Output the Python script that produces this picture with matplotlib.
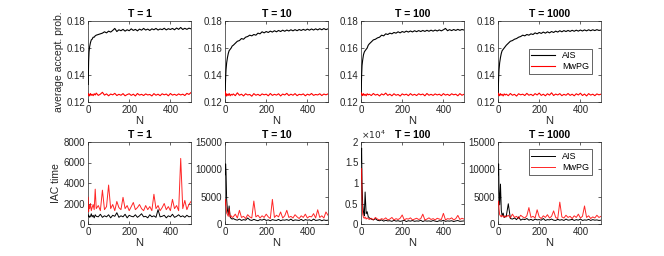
import matplotlib
matplotlib.use("Agg")
import matplotlib.pyplot as plt
from matplotlib.ticker import FuncFormatter

plt.rcParams['font.family'] = ['Liberation Sans', 'DejaVu Sans']

# ---------------------------------------------------- data ------------------------------------------------------------
temps = ['T = 1', 'T = 10', 'T = 100', 'T = 1000']

N = [1, 3, 5, 8, 12, 16, 20, 25, 30, 35,
     40, 50, 60, 70, 80, 90, 100, 110, 120, 130,
     140, 150, 160, 170, 180, 190, 200, 210, 220, 230,
     240, 250, 260, 270, 280, 290, 300, 310, 320, 330,
     340, 350, 360, 370, 380, 390, 400, 410, 420, 430,
     440, 450, 460, 470, 480, 490, 500]

# average acceptance probability
acc_ais_1 = [0.133, 0.150, 0.157, 0.161, 0.164, 0.166, 0.1665, 0.168, 0.168, 0.169,
             0.1695, 0.170, 0.1705, 0.171, 0.172, 0.1712, 0.1725, 0.1718, 0.173, 0.1745,
             0.1722, 0.1735, 0.1728, 0.1738, 0.1725, 0.1735, 0.1728, 0.1742, 0.1730, 0.1738,
             0.1727, 0.1740, 0.1732, 0.1745, 0.1733, 0.1740, 0.1730, 0.1742, 0.1735, 0.1745,
             0.1733, 0.1741, 0.1736, 0.1746, 0.1734, 0.1743, 0.1737, 0.1745, 0.1735, 0.1748,
             0.1738, 0.1752, 0.1737, 0.1746, 0.1738, 0.1747, 0.1742]
acc_ais_10 = [0.128, 0.138, 0.144, 0.149, 0.153, 0.156, 0.158, 0.159, 0.160, 0.1615,
              0.162, 0.1635, 0.165, 0.1655, 0.167, 0.1665, 0.168, 0.1685, 0.1695, 0.169,
              0.170, 0.1695, 0.171, 0.1705, 0.172, 0.1712, 0.1722, 0.1715, 0.1725, 0.1718,
              0.1728, 0.1720, 0.1730, 0.1722, 0.1732, 0.1724, 0.1733, 0.1726, 0.1735, 0.1727,
              0.1736, 0.1728, 0.1737, 0.1730, 0.1738, 0.1731, 0.1740, 0.1732, 0.1741, 0.1733,
              0.1742, 0.1734, 0.1743, 0.1735, 0.1744, 0.1736, 0.1742]
acc_ais_100 = [0.127, 0.140, 0.147, 0.151, 0.155, 0.157, 0.158, 0.159, 0.160, 0.162,
               0.163, 0.1645, 0.166, 0.1665, 0.1675, 0.168, 0.1695, 0.169, 0.1705, 0.170,
               0.171, 0.1705, 0.1715, 0.171, 0.172, 0.1712, 0.1722, 0.1716, 0.1725, 0.1718,
               0.1726, 0.1719, 0.1728, 0.1721, 0.1729, 0.1722, 0.1730, 0.1723, 0.1731, 0.1724,
               0.1732, 0.1725, 0.1733, 0.1726, 0.1734, 0.1727, 0.1735, 0.1745, 0.1728, 0.1736,
               0.1729, 0.1737, 0.1730, 0.1738, 0.1731, 0.1737, 0.1733]
acc_ais_1000 = [0.127, 0.138, 0.144, 0.149, 0.153, 0.156, 0.158, 0.159, 0.160, 0.161,
                0.162, 0.1635, 0.165, 0.1655, 0.1665, 0.167, 0.168, 0.1685, 0.1695, 0.169,
                0.170, 0.1695, 0.1705, 0.170, 0.1712, 0.1705, 0.1715, 0.1708, 0.1718, 0.1710,
                0.1720, 0.1712, 0.1722, 0.1715, 0.1725, 0.1718, 0.1728, 0.1720, 0.1729, 0.1722,
                0.1730, 0.1723, 0.1731, 0.1724, 0.1732, 0.1725, 0.1733, 0.1726, 0.1734, 0.1727,
                0.1735, 0.1728, 0.1735, 0.1729, 0.1736, 0.1730, 0.1733]

acc_mwpg_1 = [0.1262, 0.1248, 0.1258, 0.1245, 0.1263, 0.1250, 0.1257, 0.1247, 0.1261, 0.1252,
              0.1266, 0.1249, 0.1258, 0.1272, 0.1251, 0.1260, 0.1246, 0.1259, 0.1253, 0.1264,
              0.1248, 0.1257, 0.1250, 0.1262, 0.1246, 0.1255, 0.1261, 0.1249, 0.1258, 0.1245,
              0.1263, 0.1251, 0.1257, 0.1248, 0.1260, 0.1252, 0.1256, 0.1245, 0.1262, 0.1250,
              0.1258, 0.1247, 0.1261, 0.1253, 0.1259, 0.1246, 0.1263, 0.1251, 0.1257, 0.1249,
              0.1260, 0.1252, 0.1258, 0.1248, 0.1264, 0.1256, 0.1270]
acc_mwpg_10 = [0.1280, 0.1250, 0.1262, 0.1244, 0.1258, 0.1249, 0.1263, 0.1246, 0.1257, 0.1251,
               0.1260, 0.1247, 0.1268, 0.1250, 0.1258, 0.1245, 0.1261, 0.1252, 0.1256, 0.1243,
               0.1262, 0.1250, 0.1257, 0.1247, 0.1260, 0.1253, 0.1258, 0.1246, 0.1263, 0.1249,
               0.1257, 0.1251, 0.1261, 0.1245, 0.1259, 0.1252, 0.1264, 0.1248, 0.1258, 0.1250,
               0.1262, 0.1247, 0.1257, 0.1253, 0.1260, 0.1246, 0.1258, 0.1251, 0.1263, 0.1249,
               0.1256, 0.1252, 0.1261, 0.1248, 0.1259, 0.1253, 0.1260]
acc_mwpg_100 = [0.1268, 0.1252, 0.1260, 0.1247, 0.1262, 0.1250, 0.1257, 0.1246, 0.1261, 0.1253,
                0.1258, 0.1248, 0.1263, 0.1251, 0.1257, 0.1245, 0.1260, 0.1252, 0.1266, 0.1249,
                0.1258, 0.1246, 0.1261, 0.1250, 0.1256, 0.1244, 0.1260, 0.1252, 0.1258, 0.1247,
                0.1262, 0.1250, 0.1257, 0.1248, 0.1261, 0.1253, 0.1259, 0.1246, 0.1263, 0.1250,
                0.1257, 0.1249, 0.1260, 0.1252, 0.1258, 0.1247, 0.1262, 0.1251, 0.1257, 0.1248,
                0.1261, 0.1253, 0.1258, 0.1246, 0.1262, 0.1250, 0.1257]
acc_mwpg_1000 = [0.1265, 0.1250, 0.1259, 0.1246, 0.1262, 0.1251, 0.1257, 0.1245, 0.1260, 0.1252,
                 0.1258, 0.1247, 0.1263, 0.1250, 0.1257, 0.1244, 0.1261, 0.1253, 0.1258, 0.1248,
                 0.1264, 0.1250, 0.1257, 0.1247, 0.1262, 0.1252, 0.1266, 0.1249, 0.1258, 0.1246,
                 0.1261, 0.1251, 0.1268, 0.1248, 0.1259, 0.1252, 0.1262, 0.1247, 0.1257, 0.1250,
                 0.1263, 0.1249, 0.1258, 0.1246, 0.1261, 0.1252, 0.1265, 0.1248, 0.1259, 0.1245,
                 0.1262, 0.1251, 0.1258, 0.1247, 0.1260, 0.1253, 0.1258]

# integrated autocorrelation time
iac_ais_1 = [900, 700, 800, 650, 750, 1000, 700, 850, 600, 900,
             750, 700, 950, 650, 800, 700, 900, 600, 850, 750,
             1100, 650, 800, 700, 950, 600, 850, 750, 700, 900,
             650, 800, 1000, 700, 750, 600, 900, 700, 800, 650,
             1400, 700, 750, 850, 600, 800, 700, 950, 650, 750,
             900, 700, 800, 650, 850, 700, 750]
iac_ais_10 = [9000, 11000, 9500, 4500, 2500, 1800, 3300, 1300, 1000, 900,
              1000, 800, 700, 900, 650, 800, 700, 1100, 750, 650,
              850, 700, 600, 800, 700, 900, 650, 750, 600, 800,
              700, 650, 850, 600, 750, 700, 800, 650, 900, 600,
              750, 700, 650, 850, 600, 800, 700, 750, 600, 900,
              650, 700, 800, 600, 750, 650, 700]
iac_ais_100 = [15000, 18500, 10000, 5000, 3000, 2000, 7800, 2500, 3000, 1800,
               1500, 1200, 1000, 1300, 900, 800, 1000, 700, 900, 750,
               800, 650, 900, 700, 800, 650, 750, 900, 600, 800,
               700, 850, 650, 750, 700, 900, 600, 800, 700, 750,
               650, 850, 700, 600, 800, 700, 900, 650, 750, 700,
               800, 600, 750, 850, 650, 700, 750]
iac_ais_1000 = [9000, 11000, 6000, 3500, 7300, 2500, 1500, 2000, 1200, 1300,
                1400, 3700, 1000, 900, 1100, 800, 1300, 700, 900, 800,
                1000, 700, 850, 650, 900, 750, 800, 700, 1000, 650,
                800, 750, 900, 700, 650, 850, 700, 800, 650, 900,
                700, 750, 850, 650, 800, 700, 900, 650, 750, 700,
                850, 650, 800, 700, 750, 650, 700]

iac_mwpg_1 = [2600, 1200, 1800, 1500, 2000, 1300, 1600, 1900, 1400, 3400,
              1500, 1800, 1300, 3300, 1400, 1700, 3800, 1500, 1900, 1300,
              2200, 1600, 1400, 2600, 1500, 1800, 1300, 1700, 2100, 1400,
              1600, 1900, 1500, 1300, 1800, 1400, 1700, 1300, 2900, 1500,
              1800, 1300, 1600, 2000, 1400, 1700, 1300, 2400, 1500, 1800,
              1300, 6400, 1500, 2300, 1400, 1900, 2200]
iac_mwpg_10 = [3500, 4500, 3200, 2000, 1700, 1400, 2800, 1300, 1500, 1200,
               1300, 1800, 1100, 2500, 1200, 1400, 1000, 1700, 1300, 1100,
               4200, 1300, 1600, 1100, 1500, 1200, 1800, 1300, 1000, 4500,
               1200, 1600, 1300, 2200, 1100, 1500, 2500, 1200, 1400, 1100,
               1700, 1300, 1000, 1500, 1200, 1800, 1100, 1400, 1300, 1900,
               1100, 2600, 1200, 1500, 1100, 2200, 1600]
iac_mwpg_100 = [11000, 13500, 6000, 2500, 1600, 1400, 1700, 1200, 1500, 1300,
                1100, 1400, 1000, 1600, 1200, 1000, 1300, 1100, 1500, 1000,
                1200, 1600, 1000, 1300, 1100, 1400, 2200, 1000, 1300, 1200,
                1500, 1000, 1200, 1400, 1100, 1300, 2400, 1000, 1200, 1500,
                1100, 1300, 1000, 1400, 1200, 1100, 2600, 1000, 1300, 1200,
                1500, 1000, 1300, 2100, 1100, 1400, 1200]
iac_mwpg_1000 = [3500, 4200, 2800, 1700, 1500, 1300, 1600, 1400, 1200, 1500,
                 1300, 1600, 1100, 1800, 1200, 1400, 1000, 1600, 1300, 1100,
                 1500, 3000, 1200, 1400, 1100, 2600, 1300, 1000, 1500, 1200,
                 1700, 1100, 1400, 2400, 1200, 1000, 4000, 1300, 1100, 1600,
                 1200, 1400, 1000, 1500, 1200, 1800, 1100, 1400, 3300, 1200,
                 1500, 1000, 1300, 1100, 1600, 1200, 1400]

acc_ais = [acc_ais_1, acc_ais_10, acc_ais_100, acc_ais_1000]
acc_mwpg = [acc_mwpg_1, acc_mwpg_10, acc_mwpg_100, acc_mwpg_1000]
iac_ais = [iac_ais_1, iac_ais_10, iac_ais_100, iac_ais_1000]
iac_mwpg = [iac_mwpg_1, iac_mwpg_10, iac_mwpg_100, iac_mwpg_1000]
iac_ylims = [8000, 15000, 20000, 15000]
iac_steps = [2000, 5000, 5000, 5000]

# ---------------------------------------------------- figure ----------------------------------------------------------
W, H = 664, 256
fig = plt.figure(figsize=(W / 100, H / 100), dpi=100)
lefts = [88, 225, 361, 498]
axc = '#262626'


def style(ax):
    for s in ax.spines.values():
        s.set_linewidth(0.5)
        s.set_color(axc)
    ax.tick_params(direction='in', length=2.5, width=0.5, colors=axc, labelsize=7,
                   top=True, right=True, pad=2)
    ax.set_xlim(0, 500)
    ax.set_xticks([0, 200, 400])
    ax.set_xlabel('N', fontsize=8, color=axc, labelpad=1)


def add_legend(ax, y):
    leg = ax.legend(loc='upper right', bbox_to_anchor=(0.91, y), fontsize=6.5,
                    fancybox=False, handlelength=2.6, borderpad=0.3, labelspacing=0.2,
                    framealpha=1, borderaxespad=0)
    leg.get_frame().set_edgecolor(axc)
    leg.get_frame().set_linewidth(0.5)
    leg.set_zorder(5)


for i in range(4):
    # top row: acceptance probability
    ax = fig.add_axes([lefts[i] / W, (H - 102) / H, 103 / W, 81 / H])
    ax.plot(N, acc_ais[i], color='black', lw=0.8, label='AIS', zorder=3)
    ax.plot(N, acc_mwpg[i], color='red', lw=0.8, label='MwPG', zorder=3)
    ax.set_ylim(0.12, 0.18)
    ax.set_yticks([0.12, 0.14, 0.16, 0.18])
    style(ax)
    ax.set_title(temps[i], fontsize=7.5, fontweight='bold', pad=3)
    if i == 0:
        ax.set_ylabel('average accept. prob.', fontsize=7.5, color=axc, labelpad=2)
    if i == 3:
        add_legend(ax, 0.66)

    # bottom row: IAC time
    ax = fig.add_axes([lefts[i] / W, (H - 224) / H, 103 / W, 82 / H])
    ax.plot(N, iac_ais[i], color='black', lw=0.7, label='AIS', zorder=3)
    ax.plot(N, iac_mwpg[i], color='red', lw=0.7, alpha=0.85, label='MwPG', zorder=3)
    ax.set_ylim(0, iac_ylims[i])
    ax.set_yticks(list(range(0, iac_ylims[i] + 1, iac_steps[i])))
    style(ax)
    ax.set_title(temps[i], fontsize=7.5, fontweight='bold', pad=3)
    if i == 2:
        ax.yaxis.set_major_formatter(FuncFormatter(lambda v, p: f'{v / 1e4:g}'))
        ax.text(0.0, 1.015, r'$\times10^{4}$', transform=ax.transAxes, fontsize=6.5,
                color=axc, ha='left', va='bottom')
    if i == 0:
        ax.set_ylabel('IAC time', fontsize=7.5, color=axc, labelpad=2)
    if i == 3:
        add_legend(ax, 0.91)

fig.savefig('out.png', dpi=100)
